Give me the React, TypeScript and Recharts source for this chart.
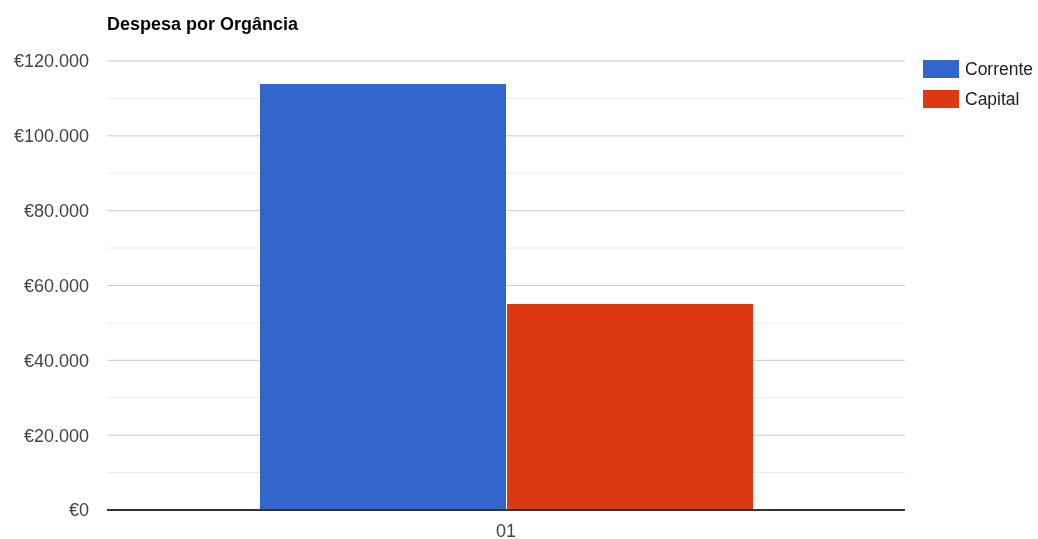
import React from "react";
import {
  BarChart,
  Bar,
  XAxis,
  YAxis,
  CartesianGrid,
} from "recharts";

const categories = ["01"];
const corrente = [113850];
const capital = [55050];
const yTicks = [0, 20000, 40000, 60000, 80000, 100000, 120000];
const minorTicks = [10000, 30000, 50000, 70000, 90000, 110000];

const series = [
  { key: "corrente", name: "Corrente", color: "#3366cc" },
  { key: "capital", name: "Capital", color: "#dc3912" },
];

const data = categories.map((c, i) => ({
  name: c,
  corrente: corrente[i],
  capital: capital[i],
}));

const formatEuro = (v: number) =>
  "€" + String(v).replace(/\B(?=(\d{3})+(?!\d))/g, ".");

const font = "'Liberation Sans', Arial, sans-serif";

const App: React.FC = () => {
  return (
    <div
      style={{
        position: "fixed",
        left: 8,
        top: 8,
        width: 1030,
        height: 531,
        fontFamily: font,
      }}
    >
      <div
        style={{
          position: "absolute",
          left: 99,
          top: 7,
          fontSize: 18,
          lineHeight: "18px",
          fontWeight: "bold",
          color: "#000",
          whiteSpace: "nowrap",
        }}
      >
        Despesa por Orgância
      </div>
      <BarChart
        width={1030}
        height={531}
        data={data}
        margin={{ top: 53, right: 133, left: 0, bottom: 0 }}
        barSize={246}
        barGap={1}
      >
        <CartesianGrid
          vertical={false}
          horizontalValues={minorTicks}
          stroke="#ebebeb"
        />
        <CartesianGrid vertical={false} stroke="#cccccc" />
        <XAxis
          dataKey="name"
          height={29}
          tickLine={false}
          tickSize={0}
          tickMargin={14}
          axisLine={{ stroke: "#333333", strokeWidth: 2 }}
          tick={{ fontSize: 18, fill: "#444444", fontFamily: font }}
        />
        <YAxis
          width={99}
          domain={[0, 120000]}
          ticks={yTicks}
          tickFormatter={formatEuro}
          axisLine={false}
          tickLine={false}
          tickSize={0}
          tickMargin={18}
          tick={{ fontSize: 18, fill: "#444444", fontFamily: font }}
        />
        {series.map((s) => (
          <Bar
            key={s.key}
            dataKey={s.key}
            name={s.name}
            fill={s.color}
            isAnimationActive={false}
          />
        ))}
      </BarChart>
      <div style={{ position: "absolute", left: 915, top: 52, width: 115 }}>
        {series.map((s, i) => (
          <div
            key={s.key}
            style={{
              position: "absolute",
              top: i * 30,
              left: 0,
              width: 115,
              display: "flex",
              alignItems: "center",
              height: 18,
              whiteSpace: "nowrap",
            }}
          >
            <div style={{ width: 36, height: 18, flexShrink: 0, background: s.color }} />
            <span style={{ marginLeft: 6, fontSize: 17.5, color: "#222222" }}>
              {s.name}
            </span>
          </div>
        ))}
      </div>
    </div>
  );
};

export default App;
